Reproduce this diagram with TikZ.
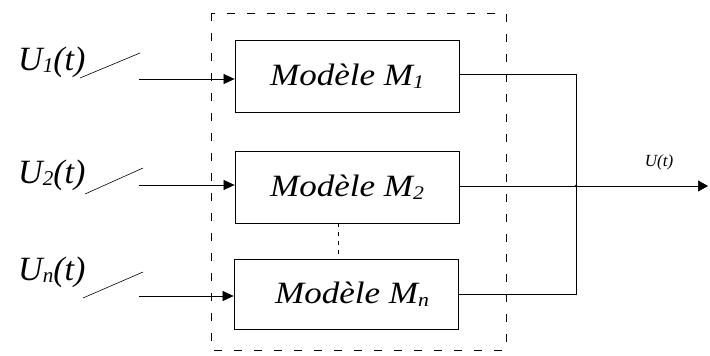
\documentclass[tikz,border=0pt]{standalone}
\usepackage{fontspec}
\setmainfont{Liberation Serif}
\usetikzlibrary{arrows.meta}
\newcommand{\sbs}[1]{\raisebox{-0.08em}{\scalebox{0.62}{#1}}}
\newcommand{\wide}[1]{\scalebox{1.13}[1]{#1}}
\begin{document}
\begin{tikzpicture}[x=1pt,y=-1pt,
  modbox/.style={draw, line width=0.8pt, minimum width=224pt, minimum height=72pt,
    font=\fontsize{31}{34}\selectfont\itshape, inner sep=0pt},
  sig/.style={line width=0.7pt},
  inarrow/.style={sig, -{Triangle[length=11pt,width=10pt]}},
  frame/.style={line width=0.7pt, dash pattern=on 8pt off 12pt},
  slash/.style={line width=0.6pt},
  inlabel/.style={font=\fontsize{34}{36}\selectfont\itshape, inner sep=0pt, anchor=base west}]
\useasboundingbox (0,0) rectangle (710,356);
\fill[white] (0,0) rectangle (710,356);

% grouping frame
\draw[frame] (211,13) rectangle (506,350);

% model blocks
\node[modbox] (m1) at (347,76) {\wide{Modèle M\sbs{1}}};
\node[modbox] (m2) at (347,187) {\wide{Modèle M\sbs{2}}};
\node[modbox, minimum height=70pt] (mn) at (346,294) {\hspace*{12pt}\wide{Modèle M\sbs{n}}};
\draw[line width=0.6pt, dash pattern=on 4pt off 5pt] (m2.south -| 338,0) -- (mn.north -| 338,0);

% inputs
\coordinate (i1) at (139,79);
\coordinate (i2) at (139,185);
\coordinate (in) at (139,296);
\draw[inarrow] (i1) -- (i1 -| m1.west);
\draw[inarrow] (i2) -- (i2 -| m2.west);
\draw[inarrow] (in) -- (in -| mn.west);

\node[inlabel] (u1) at (18,70) {U\sbs{1}(t)};
\node[inlabel] (u2) at (18,183) {U\sbs{2}(t)};
\node[inlabel] (un) at (18,280) {U\sbs{n}(t)};
\coordinate (s1a) at (80,78);  \coordinate (s1b) at (140,53);
\coordinate (s2a) at (85,194); \coordinate (s2b) at (143,168);
\coordinate (sna) at (83,298); \coordinate (snb) at (143,272);
\draw[slash] (s1a) -- (s1b);
\draw[slash] (s2a) -- (s2b);
\draw[slash] (sna) -- (snb);

% outputs and summing junction
\coordinate (j1) at (576,74);
\coordinate (jn) at (576,294);
\coordinate (j2) at (576,186);
\coordinate (out) at (708,186);
\draw[sig] (m1.east |- j1) -- (j1) -- (jn) -- (mn.east |- jn);
\draw[sig, -{Triangle[length=10pt,width=11pt]}] (m2.east |- j2) -- (out);
\fill (j2) circle (1.3pt);
\node[font=\fontsize{17}{19}\selectfont\itshape, anchor=base] (ulab) at (659,166) {U(t)};
\end{tikzpicture}
\end{document}
